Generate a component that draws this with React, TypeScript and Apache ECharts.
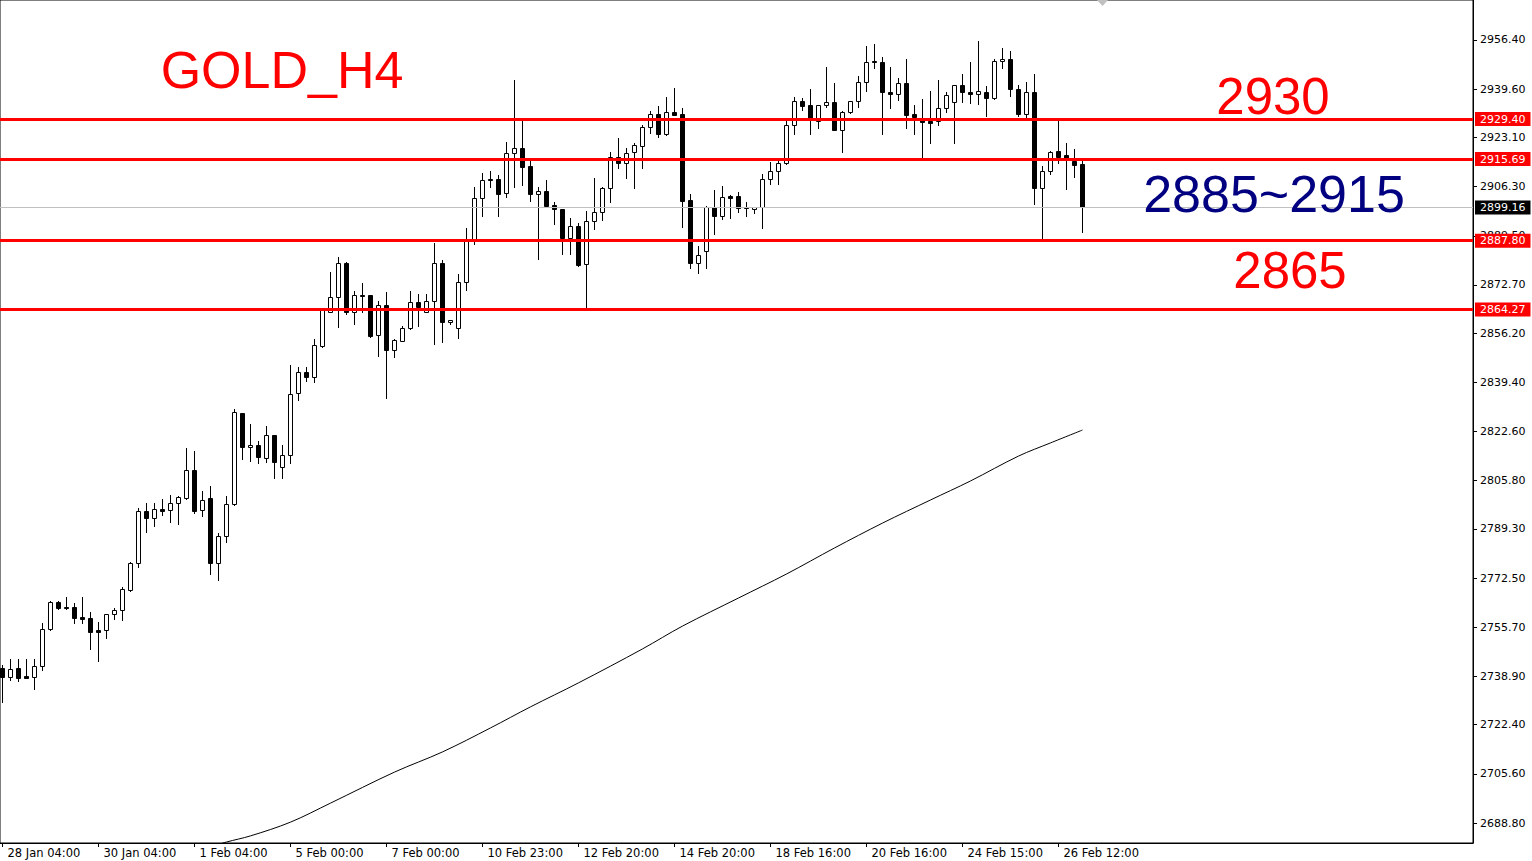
import React, { useEffect, useRef } from "react";
import * as echarts from "echarts";

// ---- data ----
const dateLabels = [
  "28 Jan 04:00", "30 Jan 04:00", "1 Feb 04:00", "5 Feb 00:00", "7 Feb 00:00", "10 Feb 23:00",
  "12 Feb 20:00", "14 Feb 20:00", "18 Feb 16:00", "20 Feb 16:00", "24 Feb 15:00", "26 Feb 12:00",
];
const barsPerLabel = 12;

const priceTicks = [
  "2956.40", "2939.60", "2923.10", "2906.30", "2889.50", "2872.70", "2856.20", "2839.40", "2822.60",
  "2805.80", "2789.30", "2772.50", "2755.70", "2738.90", "2722.40", "2705.60", "2688.80",
];

// [open, high, low, close] for each H4 bar
const ohlc: number[][] = [
  [2741.7, 2742.8, 2730.3, 2738.8], [2738.8, 2744.7, 2737.7, 2741.4], [2741.7, 2744.7, 2737.5, 2738.5],
  [2739.0, 2744.7, 2738.3, 2738.5], [2738.8, 2744.7, 2734.5, 2742.4], [2742.6, 2757.3, 2741.1, 2755.0],
  [2755.0, 2764.6, 2754.9, 2764.5], [2764.5, 2764.6, 2762.1, 2762.4], [2762.6, 2765.9, 2762.1, 2762.2],
  [2762.5, 2763.9, 2757.0, 2759.0], [2759.1, 2765.9, 2757.0, 2758.6], [2758.8, 2760.8, 2748.2, 2754.0],
  [2754.7, 2757.4, 2744.3, 2754.2], [2754.7, 2760.2, 2752.1, 2760.1], [2760.1, 2762.4, 2758.5, 2761.5],
  [2761.5, 2769.6, 2758.2, 2768.7], [2768.4, 2778.0, 2768.2, 2777.6], [2777.6, 2796.6, 2776.2, 2795.4],
  [2795.4, 2798.2, 2788.4, 2792.9], [2792.9, 2798.2, 2790.4, 2796.1], [2796.1, 2799.5, 2794.1, 2795.6],
  [2795.7, 2800.8, 2791.8, 2798.1], [2798.1, 2800.5, 2790.9, 2800.1], [2800.0, 2816.9, 2799.5, 2809.3],
  [2809.3, 2815.9, 2794.9, 2795.6], [2795.7, 2802.4, 2793.8, 2799.2], [2799.8, 2804.0, 2773.8, 2777.8],
  [2777.8, 2788.0, 2771.9, 2786.9], [2786.8, 2800.6, 2785.0, 2797.7], [2797.7, 2830.2, 2797.5, 2829.2],
  [2828.8, 2829.0, 2813.3, 2817.2], [2817.2, 2825.2, 2812.6, 2818.0], [2817.9, 2819.2, 2812.0, 2813.8],
  [2813.4, 2824.5, 2812.3, 2821.4], [2821.4, 2821.5, 2806.8, 2812.3], [2810.5, 2818.0, 2806.6, 2814.6],
  [2814.6, 2845.3, 2812.0, 2835.4], [2835.7, 2844.8, 2833.4, 2842.8], [2842.9, 2844.5, 2840.0, 2841.3],
  [2841.3, 2854.2, 2839.6, 2852.1], [2851.8, 2864.1, 2851.6, 2864.1], [2863.6, 2877.0, 2863.5, 2868.5],
  [2868.5, 2882.4, 2858.4, 2880.1], [2880.1, 2880.6, 2862.8, 2863.3], [2863.3, 2870.7, 2859.5, 2869.1],
  [2869.3, 2873.2, 2863.6, 2869.1], [2869.1, 2869.2, 2854.8, 2855.2], [2855.5, 2867.3, 2848.5, 2865.7],
  [2865.7, 2870.2, 2833.9, 2850.5], [2850.5, 2854.3, 2848.0, 2853.8], [2853.5, 2858.7, 2853.4, 2857.9],
  [2857.9, 2870.5, 2857.8, 2867.0], [2867.0, 2869.6, 2858.8, 2865.0], [2863.4, 2869.6, 2863.3, 2867.3],
  [2867.3, 2887.0, 2852.4, 2880.3], [2880.3, 2881.2, 2853.1, 2859.9], [2859.9, 2860.6, 2859.3, 2860.6],
  [2857.9, 2876.4, 2854.7, 2873.6], [2873.6, 2892.0, 2871.0, 2887.8], [2888.1, 2906.3, 2886.6, 2902.3],
  [2902.3, 2910.8, 2896.4, 2908.6], [2908.9, 2911.8, 2906.3, 2908.4], [2908.9, 2910.3, 2896.4, 2903.9],
  [2904.0, 2921.7, 2902.6, 2917.7], [2917.7, 2942.7, 2906.3, 2919.4], [2919.4, 2929.1, 2906.9, 2913.1],
  [2913.2, 2915.2, 2901.5, 2903.6], [2903.7, 2906.3, 2881.7, 2904.7], [2904.8, 2908.6, 2899.4, 2899.8],
  [2900.0, 2900.9, 2893.6, 2898.5], [2898.5, 2898.6, 2883.4, 2888.9], [2888.9, 2895.6, 2883.4, 2892.8],
  [2892.8, 2893.8, 2879.3, 2879.5], [2879.7, 2897.9, 2864.5, 2894.4], [2894.4, 2909.2, 2891.7, 2897.5],
  [2897.5, 2906.3, 2894.9, 2905.7], [2905.7, 2918.1, 2901.2, 2916.3], [2916.3, 2922.8, 2912.5, 2914.3],
  [2914.3, 2919.4, 2909.4, 2917.7], [2918.0, 2921.1, 2905.9, 2920.4], [2920.2, 2927.4, 2912.8, 2926.6],
  [2926.6, 2932.0, 2924.5, 2931.1], [2931.1, 2933.8, 2923.1, 2924.2], [2924.2, 2937.0, 2923.8, 2931.7],
  [2931.7, 2940.0, 2930.8, 2930.9], [2931.1, 2933.2, 2892.6, 2901.5], [2901.7, 2903.8, 2878.4, 2880.3],
  [2880.3, 2886.1, 2876.7, 2882.9], [2884.4, 2899.7, 2878.4, 2899.3], [2899.3, 2905.1, 2890.0, 2896.4],
  [2896.4, 2906.5, 2895.1, 2902.7], [2903.1, 2903.4, 2895.5, 2902.5], [2903.1, 2904.3, 2897.7, 2899.1],
  [2899.3, 2901.1, 2896.4, 2898.9], [2898.5, 2899.2, 2897.2, 2899.2], [2899.2, 2910.5, 2892.0, 2908.8],
  [2908.8, 2914.8, 2907.1, 2911.5], [2911.5, 2915.4, 2907.1, 2914.2], [2914.2, 2929.1, 2914.1, 2927.2],
  [2927.2, 2936.8, 2924.2, 2935.4], [2935.4, 2936.5, 2932.5, 2933.7], [2934.2, 2939.5, 2924.2, 2928.9],
  [2928.6, 2934.2, 2926.4, 2934.2], [2934.1, 2947.3, 2933.6, 2935.1], [2935.1, 2941.6, 2925.5, 2925.5],
  [2925.5, 2932.1, 2918.2, 2931.7], [2931.7, 2935.4, 2931.3, 2935.4], [2935.5, 2944.1, 2933.6, 2941.9],
  [2941.9, 2954.4, 2939.1, 2948.8], [2949.2, 2955.0, 2947.0, 2948.8], [2948.8, 2950.7, 2924.2, 2938.5],
  [2938.5, 2947.1, 2933.3, 2937.8], [2937.8, 2943.4, 2935.8, 2941.6], [2941.6, 2949.9, 2926.4, 2930.8],
  [2931.0, 2934.2, 2924.2, 2930.1], [2929.0, 2936.1, 2916.5, 2928.3], [2928.7, 2939.0, 2921.3, 2928.2],
  [2928.7, 2942.7, 2927.4, 2933.1], [2933.1, 2938.5, 2931.9, 2937.5], [2935.1, 2940.9, 2921.1, 2940.9],
  [2940.9, 2944.8, 2935.3, 2938.5], [2938.5, 2948.8, 2934.8, 2938.1], [2938.1, 2956.2, 2934.5, 2939.0],
  [2938.5, 2940.7, 2930.5, 2936.5], [2936.5, 2949.9, 2936.4, 2949.2], [2949.2, 2953.6, 2946.7, 2949.9],
  [2949.9, 2952.6, 2937.4, 2939.5], [2939.5, 2941.0, 2930.5, 2931.2], [2931.2, 2942.2, 2930.2, 2938.5],
  [2938.5, 2944.7, 2900.2, 2905.7], [2905.7, 2913.5, 2888.6, 2911.7], [2911.7, 2918.5, 2910.5, 2918.2],
  [2918.6, 2929.1, 2914.5, 2916.5], [2917.1, 2921.1, 2905.6, 2916.2], [2915.1, 2919.0, 2909.5, 2913.7],
  [2913.9, 2915.1, 2890.7, 2899.2],
];

// moving average: [bar index, value]
const maPoints: number[][] = [
  [26, 2680.6], [28, 2682.3], [31, 2684.4], [36, 2689.1], [41, 2695.6], [49, 2706.2], [55, 2713.1],
  [61, 2721.3], [66, 2728.5], [72, 2736.7], [80, 2748.3], [85, 2756.1], [92, 2765.7], [98, 2773.9],
  [104, 2782.8], [110, 2791.3], [116, 2799.2], [121, 2805.7], [127, 2814.2], [131, 2818.7], [135, 2823.1],
];

const levels = [2929.40, 2915.69, 2887.80, 2864.27];
const bidPrice = 2899.16;

const titleText = "GOLD_H4";
const upperText = "2930";
const rangeText = "2885~2915";
const lowerText = "2865";

// ---- layout constants ----
const W = 1532;
const H = 861;
const PLOT_RIGHT = 1473;
const PLOT_BOTTOM = 843;
const PX_PER_BAR = 8;
const FIRST_BAR_PX = 2.5;
const Y_MIN = 2681.97;
const Y_MAX = 2970.07;
const AXIS_FONT = "DejaVu Sans";

export default function App() {
  const ref = useRef<HTMLDivElement>(null);

  useEffect(() => {
    if (!ref.current) return;
    const chart = echarts.init(ref.current, undefined, { renderer: "svg", width: W, height: H });

    const xMin = -FIRST_BAR_PX / PX_PER_BAR;
    const xMax = xMin + PLOT_RIGHT / PX_PER_BAR;

    const candleData = ohlc.map((d, i) => [i, d[0], d[3], d[2], d[1]]);
    const labelIdx = dateLabels.map((_, k) => k * barsPerLabel);
    const tickVals = priceTicks.map(Number);

    const labelStyle = (bg: string) => ({
      show: true,
      position: "end",
      color: "#ffffff",
      backgroundColor: bg,
      padding: [2, 5, 1, 5],
      fontSize: 11,
      fontFamily: AXIS_FONT,
      distance: 2,
    });

    const option: any = {
      animation: false,
      backgroundColor: "#ffffff",
      grid: {
        left: 0,
        top: 0,
        width: PLOT_RIGHT,
        height: PLOT_BOTTOM,
        show: true,
        borderColor: "#000000",
        borderWidth: 1,
        backgroundColor: "#ffffff",
      },
      xAxis: {
        type: "value",
        min: xMin,
        max: xMax,
        splitLine: { show: false },
        axisLine: { show: true, onZero: false, lineStyle: { color: "#000000", width: 1 } },
        axisTick: { show: true, inside: false, customValues: labelIdx, length: 4, lineStyle: { color: "#000000" } },
        axisLabel: {
          customValues: labelIdx,
          formatter: (v: number) => dateLabels[Math.round(v / barsPerLabel)] ?? "",
          align: "left",
          padding: [0, 0, 0, 5],
          margin: 4,
          fontSize: 11.5,
          fontFamily: AXIS_FONT,
          color: "#000000",
        },
      },
      yAxis: {
        type: "value",
        position: "right",
        min: Y_MIN,
        max: Y_MAX,
        splitLine: { show: false },
        axisLine: { show: true, onZero: false, lineStyle: { color: "#000000", width: 1 } },
        axisTick: { show: true, inside: false, customValues: tickVals, length: 4, lineStyle: { color: "#000000" } },
        axisLabel: {
          customValues: tickVals,
          formatter: (v: number) => v.toFixed(2),
          margin: 7,
          fontSize: 11,
          fontFamily: AXIS_FONT,
          color: "#000000",
        },
      },
      series: [
        {
          type: "line",
          name: "MA",
          data: maPoints,
          showSymbol: false,
          smooth: 0.35,
          clip: true,
          lineStyle: { color: "#000000", width: 1 },
          z: 1,
          markLine: {
            silent: true,
            symbol: ["none", "none"],
            data: [
              {
                yAxis: bidPrice,
                lineStyle: { color: "#c0c0c0", width: 1, type: "solid" },
                label: { ...labelStyle("#000000"), formatter: bidPrice.toFixed(2) },
              },
            ],
          },
        },
        {
          type: "custom",
          name: "GOLD",
          data: candleData,
          encode: { x: 0, y: [1, 2, 3, 4] },
          clip: true,
          z: 3,
          renderItem: (params: any, api: any) => {
            const x = api.value(0);
            const o = api.value(1);
            const c = api.value(2);
            const l = api.value(3);
            const h = api.value(4);
            const pO = api.coord([x, o]);
            const pC = api.coord([x, c]);
            const pL = api.coord([x, l]);
            const pH = api.coord([x, h]);
            const cx = Math.floor(pO[0]) + 0.5;
            const top = Math.round(Math.min(pO[1], pC[1])) + 0.5;
            const bot = Math.round(Math.max(pO[1], pC[1])) + 0.5;
            const bull = c >= o;
            return {
              type: "group",
              children: [
                {
                  type: "line",
                  shape: { x1: cx, y1: Math.round(pH[1]), x2: cx, y2: Math.round(pL[1]) + 1 },
                  style: { stroke: "#000000", lineWidth: 1 },
                },
                {
                  type: "rect",
                  shape: { x: cx - 2, y: top, width: 4, height: Math.max(bot - top, 1) },
                  style: { fill: bull ? "#ffffff" : "#000000", stroke: "#000000", lineWidth: 1 },
                },
              ],
            };
          },
          markLine: {
            silent: true,
            symbol: ["none", "none"],
            z: 10,
            data: levels.map((v) => ({
              yAxis: v,
              lineStyle: { color: "#ff0000", width: 3, type: "solid" },
              label: { ...labelStyle("#ff0000"), formatter: v.toFixed(2) },
            })),
          },
        },
      ],
      graphic: [
        {
          type: "text",
          x: 282,
          y: 70,
          z: 20,
          style: { text: titleText, fill: "#ff0000", font: '52px "Liberation Sans"', align: "center", verticalAlign: "middle" },
        },
        {
          type: "text",
          x: 1273,
          y: 96,
          z: 20,
          style: { text: upperText, fill: "#ff0000", font: '51px "Liberation Sans"', align: "center", verticalAlign: "middle" },
        },
        {
          type: "text",
          x: 1274,
          y: 194,
          z: 20,
          style: { text: rangeText, fill: "#000080", font: '52px "Liberation Sans"', align: "center", verticalAlign: "middle" },
        },
        {
          type: "text",
          x: 1290,
          y: 270,
          z: 20,
          style: { text: lowerText, fill: "#ff0000", font: '51px "Liberation Sans"', align: "center", verticalAlign: "middle" },
        },
        {
          type: "polygon",
          z: 20,
          shape: { points: [[1097, 0], [1108, 0], [1102.5, 6]] },
          style: { fill: "#c0c0c0" },
        },
      ],
    };

    chart.setOption(option);
    return () => chart.dispose();
  }, []);

  return (
    <div
      ref={ref}
      style={{ position: "fixed", left: 0, top: 0, width: W, height: H, background: "#ffffff" }}
    />
  );
}
